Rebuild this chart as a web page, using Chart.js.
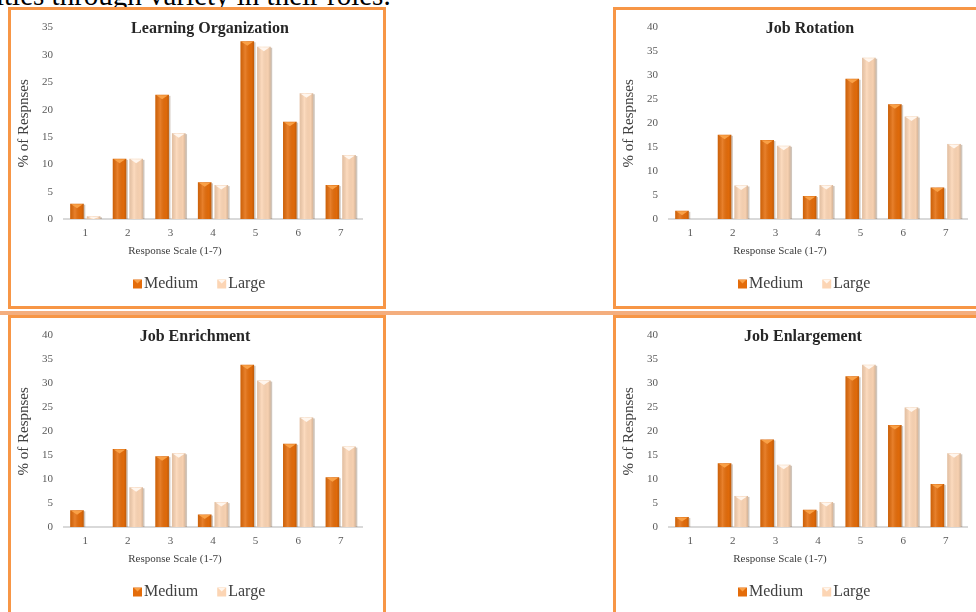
<!DOCTYPE html>
<html lang="en">
<head>
    <meta charset="UTF-8">
    <title>Response Scale charts</title>
    <style>
        body {margin: 0; width: 976px; height: 612px; overflow: hidden; background: #fff; position: relative;}
        .frame {position: absolute; border: 3px solid #F79646; width: 372px; height: 296px; background: #fff;}
        .frame canvas {position: absolute; left: 0; top: 0;}
        #sep {position: absolute; left: 0; top: 311px; width: 976px; height: 4px; background: #F4AE7E;}
        #lead {position: absolute; left: -4px; top: -19px; font: 29px "Liberation Serif", serif; line-height: 28px; white-space: nowrap; color: #000;}
    </style>
    <script src="https://cdn.jsdelivr.net/npm/chart.js@4.4.1/dist/chart.umd.min.js"></script>
</head>
<body>
    <div id="lead">ities through variety in their roles.</div>
    <div class="frame" style="left:8px; top:7px;"><canvas id="c0" width="372" height="296"></canvas></div>
    <div class="frame" style="left:613px; top:7px;"><canvas id="c1" width="372" height="296"></canvas></div>
    <div id="sep"></div>
    <div class="frame" style="left:8px; top:315px;"><canvas id="c2" width="372" height="296"></canvas></div>
    <div class="frame" style="left:613px; top:315px;"><canvas id="c3" width="372" height="296"></canvas></div>

    <script>
        // categories on the x axis
        const categories = ['1', '2', '3', '4', '5', '6', '7'];
        const seriesNames = ['Medium', 'Large'];

        // % of responses
        const learningMedium = [2.8, 11.0, 22.7, 6.7, 32.5, 17.8, 6.2];
        const learningLarge = [0.5, 11.0, 15.7, 6.2, 31.5, 23.0, 11.7];
        const rotationMedium = [1.7, 17.6, 16.5, 4.8, 29.3, 24.0, 6.6];
        const rotationLarge = [0, 7.0, 15.3, 7.1, 33.7, 21.4, 15.7];
        const enrichMedium = [3.5, 16.3, 14.8, 2.6, 33.9, 17.4, 10.4];
        const enrichLarge = [0, 8.3, 15.4, 5.2, 30.6, 22.9, 16.8];
        const enlargeMedium = [2.1, 13.3, 18.3, 3.6, 31.5, 21.3, 9.0];
        const enlargeLarge = [0, 6.5, 13.0, 5.2, 33.9, 25.0, 15.4];

        const chartTitles = ['Learning Organization', 'Job Rotation', 'Job Enrichment', 'Job Enlargement'];
        const yMaxes = [35, 40, 40, 40];
        const yTitle = '% of Respnses';
        const xTitle = 'Response Scale (1-7)';

        const medColor = '#E46C0A';
        const largeColor = '#FCD5B4';
        const serif = '"Liberation Serif", serif';

        // bevel look + titles + legend, drawn on top of what chart.js lays out
        const decor = {
            id: 'decor',
            afterDatasetsDraw(chart) {
                const ctx = chart.ctx;
                ctx.save();
                chart.data.datasets.forEach((ds, di) => {
                    chart.getDatasetMeta(di).data.forEach(bar => {
                        const p = bar.getProps(['x', 'y', 'base', 'width'], true);
                        const l = p.x - p.width / 2, r = p.x + p.width / 2, h = p.base - p.y;
                        if (h < 0.5) return;
                        // shadow on right side
                        ctx.fillStyle = 'rgba(120,90,60,0.35)';
                        ctx.fillRect(r, p.y + 1, 1.5, h - 1);
                        // rounded-ish shading
                        const g = ctx.createLinearGradient(l, 0, r, 0);
                        g.addColorStop(0, 'rgba(0,0,0,0.10)');
                        g.addColorStop(0.35, 'rgba(255,255,255,0.14)');
                        g.addColorStop(0.8, 'rgba(0,0,0,0.02)');
                        g.addColorStop(1, 'rgba(0,0,0,0.16)');
                        ctx.fillStyle = g;
                        ctx.fillRect(l, p.y, p.width, h);
                        // top chevron
                        const th = Math.min(4.5, h);
                        ctx.fillStyle = ds.bevel;
                        ctx.beginPath();
                        ctx.moveTo(l + 1, p.y + 0.5);
                        ctx.lineTo(r - 1, p.y + 0.5);
                        ctx.lineTo(p.x, p.y + th);
                        ctx.closePath();
                        ctx.fill();
                    });
                });
                ctx.restore();
            },
            afterDraw(chart, args, opts) {
                const ctx = chart.ctx;
                const ca = chart.chartArea;
                ctx.save();
                ctx.textAlign = 'center';
                ctx.textBaseline = 'middle';
                ctx.fillStyle = '#262626';
                ctx.font = 'bold 16px ' + serif;
                ctx.fillText(opts.title, opts.titleX, 19);

                ctx.fillStyle = '#404040';
                ctx.font = '11px ' + serif;
                ctx.fillText(xTitle, 164, 241);

                ctx.save();
                ctx.translate(13, (ca.top + ca.bottom) / 2);
                ctx.rotate(-Math.PI / 2);
                ctx.font = '15px ' + serif;
                ctx.fillText(yTitle, 0, 0);
                ctx.restore();

                // legend
                ctx.textAlign = 'left';
                ctx.textBaseline = 'alphabetic';
                ctx.font = '16px ' + serif;
                let x = 122;
                chart.data.datasets.forEach(ds => {
                    ctx.fillStyle = ds.backgroundColor;
                    ctx.fillRect(x, 269.5, 9, 9);
                    ctx.fillStyle = ds.bevel;
                    ctx.beginPath();
                    ctx.moveTo(x + 1, 270);
                    ctx.lineTo(x + 8, 270);
                    ctx.lineTo(x + 4.5, 273.5);
                    ctx.closePath();
                    ctx.fill();
                    ctx.fillStyle = '#404040';
                    ctx.fillText(ds.label, x + 11, 278);
                    x += 11 + ctx.measureText(ds.label).width + 19;
                });
                ctx.restore();
            }
        };

        function makeChart(id, idx, medium, large, titleX) {
            return new Chart(document.getElementById(id), {
                type: 'bar',
                data: {
                    labels: categories,
                    datasets: [
                        {label: seriesNames[0], data: medium, backgroundColor: medColor, bevel: '#F9A046'},
                        {label: seriesNames[1], data: large, backgroundColor: largeColor, bevel: '#FFF6EE'}
                    ]
                },
                options: {
                    responsive: false,
                    animation: false,
                    events: [],
                    categoryPercentage: 0.78,
                    barPercentage: 0.82,
                    layout: {padding: {left: 0, right: 21, top: 17, bottom: 0}},
                    plugins: {
                        legend: {display: false},
                        tooltip: {enabled: false},
                        decor: {title: chartTitles[idx], titleX: titleX}
                    },
                    scales: {
                        x: {
                            grid: {display: false, drawTicks: false},
                            border: {display: true, color: '#D9D9D9', width: 2},
                            ticks: {padding: 8, color: '#595959', font: {family: serif, size: 11}},
                            afterFit(s) { s.height = 87; }
                        },
                        y: {
                            min: 0,
                            max: yMaxes[idx],
                            grid: {display: false, drawTicks: false},
                            border: {display: false},
                            ticks: {stepSize: 5, padding: 11, color: '#595959', font: {family: serif, size: 11}},
                            afterFit(s) { s.width = 53; }
                        }
                    }
                },
                plugins: [decor]
            });
        }

        makeChart('c0', 0, learningMedium, learningLarge, 199);
        makeChart('c1', 1, rotationMedium, rotationLarge, 194);
        makeChart('c2', 2, enrichMedium, enrichLarge, 184);
        makeChart('c3', 3, enlargeMedium, enlargeLarge, 187);
    </script>
</body>
</html>
